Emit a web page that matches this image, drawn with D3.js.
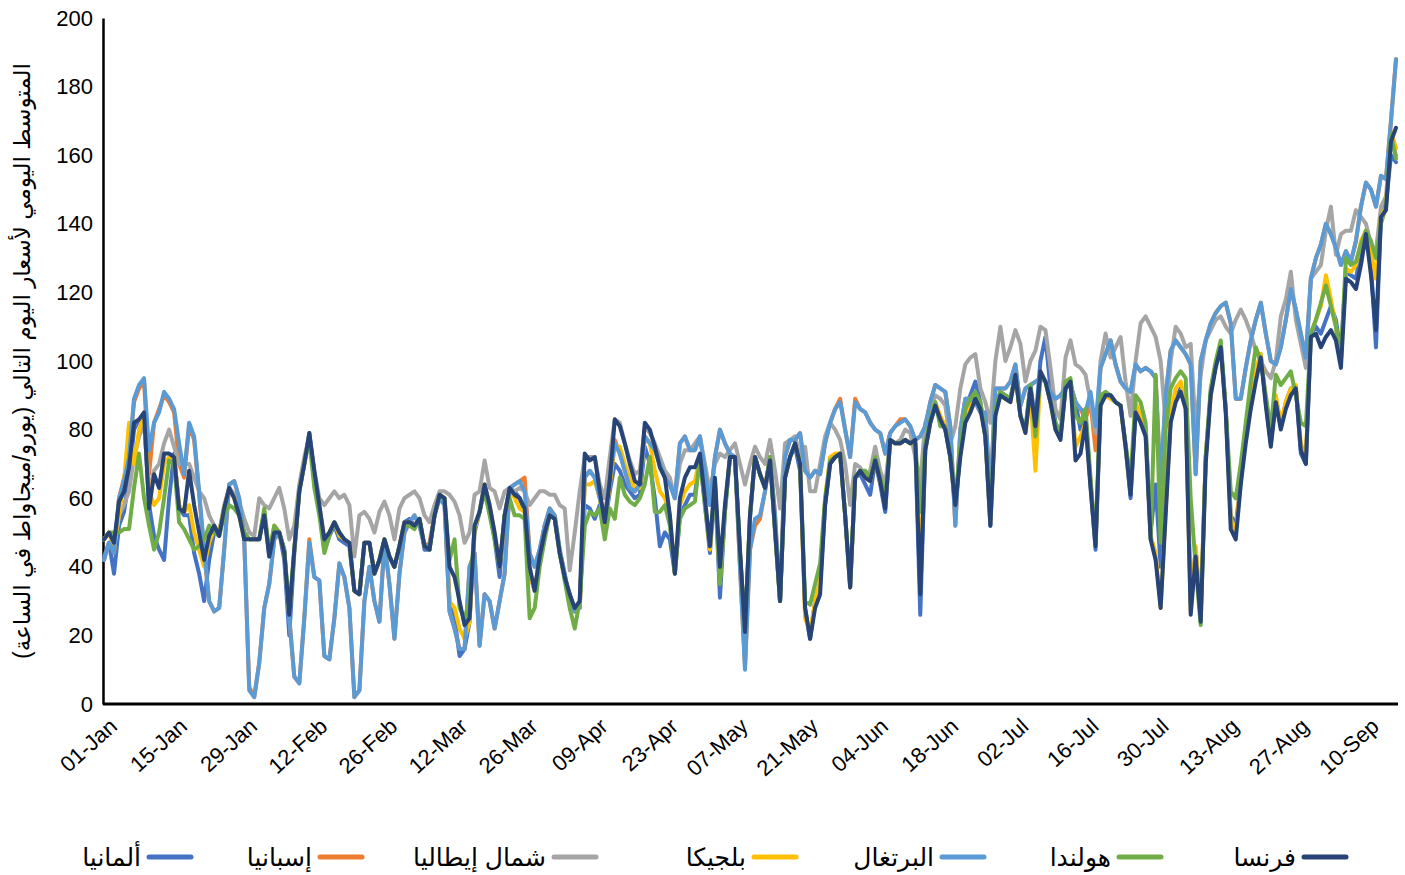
<!DOCTYPE html>
<html>
<head>
<meta charset="utf-8">
<script src="https://cdn.jsdelivr.net/npm/d3@7"></script>
<style>
  body { margin: 0; background: #fff; }
  text { font-family: "Liberation Sans", Arial, "DejaVu Sans", sans-serif; fill: #000; }
</style>
</head>
<body>
<div class="chart"></div>
<script>
// first day of the series, one value per day after it
var startDate = "2021-01-01";
var yTicks = [0, 20, 40, 60, 80, 100, 120, 140, 160, 180, 200];
var yTitle = "المتوسط اليومي لأسعار اليوم التالي (يورو/ميجاواط في الساعة)";

// daily averages, EUR/MWh
var germany = [43,47,38,52,56,66,80,83,84,58,49,45,42,60,73,57,55,55,44,38,30,42,50,50,57,63,61,56,50,48,
  48,48,56,43,51,50,42,20,44,62,70,79,67,57,45,49,52,48,47,46,33,32,47,47,38,42,48,43,40,46,
  53,54,52,54,45,45,55,61,59,30,25,14,16,24,50,56,64,57,48,37,55,63,62,60,56,38,33,43,52,56,
  54,44,37,32,27,30,58,57,54,58,52,62,70,68,64,62,60,61,75,70,60,46,50,48,38,55,58,61,61,72,
  58,44,64,31,56,72,72,44,21,54,72,67,63,72,50,30,66,72,75,68,28,19,30,35,58,70,72,73,55,34,
  66,67,64,61,71,64,56,77,76,76,77,76,76,26,74,82,87,83,80,72,57,74,86,90,94,88,78,52,86,91,
  90,89,96,84,80,93,82,100,107,92,82,78,92,93,88,80,84,64,45,88,90,90,88,87,75,60,86,83,80,50,
  64,40,58,83,89,92,87,30,45,26,72,91,99,105,86,55,52,65,80,88,95,102,88,76,89,81,88,92,92,73,
  70,108,110,108,112,116,112,102,126,125,124,132,138,128,104,142,146,160,158];

var spain = [42,47,44,60,66,72,88,92,94,67,82,86,90,88,85,70,66,81,77,61,44,30,27,28,45,64,65,60,48,5,
  2,12,28,35,48,50,45,25,8,6,25,48,37,36,14,13,25,41,37,28,2,4,30,40,30,24,47,35,19,38,
  50,53,55,52,46,47,55,60,58,27,22,16,16,40,44,17,32,30,22,30,38,63,64,65,66,44,40,45,52,57,
  55,45,38,30,27,28,66,68,66,60,54,66,77,73,68,63,62,64,78,76,74,70,66,64,60,76,78,74,74,78,
  68,58,72,80,76,73,72,40,11,45,52,54,62,72,55,30,72,77,77,79,68,66,68,67,76,82,86,89,80,72,
  89,86,85,82,80,79,73,79,81,83,83,81,77,78,81,88,93,92,91,81,52,80,89,89,88,85,85,60,92,92,
  92,94,99,87,92,93,94,95,94,91,89,90,92,93,88,86,83,88,74,98,102,106,99,94,92,91,99,97,98,97,
  95,64,90,103,106,104,102,99,67,100,106,111,114,116,117,111,89,89,98,106,112,117,108,100,99,104,112,121,115,108,
  101,124,130,134,140,137,133,128,132,129,135,145,152,150,145,154,153,170,188];

var northItaly = [48,50,47,55,58,62,72,78,82,62,68,70,76,80,75,70,70,70,66,62,60,55,52,50,58,63,61,59,54,50,
  49,60,58,57,60,63,57,48,52,64,72,78,68,60,58,60,62,60,61,58,43,55,56,54,50,56,59,55,48,57,
  60,61,62,60,55,53,58,62,62,61,59,55,47,50,61,62,71,63,62,57,62,63,62,63,62,58,60,62,62,61,
  61,58,57,39,50,62,72,72,72,64,60,72,83,82,76,71,67,68,81,79,76,72,68,66,60,70,74,74,76,78,
  70,62,70,73,72,74,76,70,64,70,75,72,70,77,68,57,76,77,78,72,75,62,62,70,78,82,80,77,70,58,
  70,69,66,68,75,68,64,77,76,77,80,79,72,65,82,86,90,89,87,76,81,92,99,101,102,92,88,82,100,110,
  100,104,109,105,94,100,103,110,109,98,86,83,101,106,99,98,96,88,79,100,108,101,104,107,94,84,100,111,113,110,
  107,100,82,100,110,108,104,105,80,96,106,109,112,113,110,108,112,115,112,108,103,100,97,95,100,113,118,126,112,105,
  98,124,126,128,138,145,131,137,138,138,144,142,140,134,132,145,148,165,160];

var belgium = [48,50,45,55,65,82,70,80,84,62,58,60,70,72,72,58,56,58,50,45,40,47,51,50,57,63,60,55,48,48,
  48,48,56,44,52,50,44,26,45,62,70,78,67,58,48,50,53,49,48,47,33,32,47,47,38,42,48,43,40,46,
  53,53,52,54,46,45,55,61,60,30,28,22,19,24,51,56,64,58,50,40,55,63,60,57,56,38,33,43,50,55,
  54,44,37,31,27,28,64,64,65,60,52,64,75,75,70,66,63,63,78,76,68,62,60,55,38,58,62,64,65,72,
  59,45,65,36,57,72,72,44,21,55,72,67,63,72,51,30,66,72,76,70,25,21,30,36,60,72,73,73,55,34,
  66,68,66,65,71,65,58,77,76,76,77,76,76,40,74,83,88,84,81,72,58,73,84,87,90,87,78,53,85,90,
  89,88,96,84,79,90,68,96,94,88,80,78,92,94,75,78,82,65,47,88,90,89,88,87,75,62,88,84,79,49,
  44,28,56,84,92,94,88,27,46,27,72,90,99,104,86,54,50,66,80,90,98,102,88,76,90,82,88,92,93,76,
  72,108,112,116,125,118,110,100,127,126,128,135,138,132,124,142,145,167,162];

var portugal = [42,47,44,60,65,72,89,93,95,74,82,85,91,89,86,76,67,82,78,62,45,30,27,28,45,64,65,60,48,4,
  2,12,28,35,48,50,45,25,8,6,25,47,37,36,14,13,25,41,37,28,2,4,30,40,30,24,47,35,19,38,
  50,53,55,52,46,46,55,60,58,27,22,16,16,40,44,17,32,30,22,30,38,63,64,65,62,44,40,45,52,57,
  55,45,38,30,27,28,66,68,66,60,54,66,76,73,68,63,62,64,78,76,74,70,66,64,60,76,78,74,74,78,
  68,58,72,80,76,73,72,40,10,45,54,55,62,72,55,30,72,77,77,79,68,66,68,67,76,82,86,88,80,72,
  88,86,85,82,80,79,73,79,81,82,83,81,77,78,81,88,93,92,91,81,52,80,89,89,88,85,85,60,92,92,
  92,94,99,87,92,93,94,95,94,91,89,90,92,93,88,86,85,91,81,98,102,106,99,94,92,91,99,97,98,97,
  95,64,90,103,106,104,102,99,67,100,106,111,114,116,117,111,89,89,98,106,112,117,108,100,99,104,112,121,115,108,
  101,124,130,134,140,137,133,128,132,129,135,145,152,150,145,154,153,170,188];

var netherlands = [48,50,50,50,51,51,63,73,60,52,45,50,60,71,70,53,51,48,45,46,48,52,50,49,55,58,57,55,50,48,
  48,48,57,44,52,50,45,27,45,62,70,77,63,55,44,49,53,50,48,47,33,32,47,47,38,42,48,43,40,46,
  52,52,51,54,46,45,55,61,60,42,48,28,25,30,52,56,62,55,48,40,55,60,55,55,54,25,28,40,48,55,
  54,44,36,28,22,30,52,56,55,57,48,57,54,66,61,59,58,60,64,72,56,56,58,52,38,54,57,58,59,72,
  58,46,64,35,56,72,72,44,22,55,72,67,63,72,51,30,66,72,76,70,30,29,35,41,60,71,72,73,55,35,
  66,68,68,66,72,66,60,77,76,76,77,76,76,56,76,83,88,81,81,72,60,75,86,89,91,88,78,55,86,91,
  90,89,96,84,80,93,78,96,94,88,82,79,94,95,84,82,86,66,47,90,91,90,88,87,76,65,90,88,82,48,
  96,47,80,92,95,97,95,60,40,23,72,92,100,106,86,62,60,70,82,94,104,100,90,80,96,93,95,97,90,82,
  81,108,112,117,122,116,110,101,130,128,129,134,138,135,130,140,145,166,159];

var france = [48,50,47,59,62,69,82,83,85,57,67,63,73,73,72,57,56,68,58,50,42,49,52,49,57,63,60,55,48,48,
  48,48,55,43,50,50,44,26,45,62,70,79,68,58,48,50,53,50,48,47,33,32,47,47,38,42,48,43,40,46,
  53,53,52,54,46,45,55,61,60,40,37,30,23,25,52,56,64,58,50,40,55,63,61,60,57,40,33,43,50,55,
  54,44,37,32,28,30,73,71,72,62,53,65,83,81,76,70,65,64,82,80,75,69,66,55,38,60,66,69,69,73,
  60,46,66,40,58,72,72,45,21,55,72,67,63,71,51,30,66,72,76,70,28,19,28,32,58,70,72,73,55,34,
  66,68,66,65,71,65,57,77,76,76,77,76,77,32,74,82,87,83,80,72,58,72,82,85,89,86,78,52,84,90,
  89,88,96,84,79,92,81,97,94,88,80,77,92,94,71,73,82,63,46,87,90,90,88,87,75,61,85,82,78,48,
  42,28,55,82,88,91,86,26,43,24,70,90,98,104,85,51,48,64,76,86,94,101,87,75,88,80,86,90,92,74,
  70,107,108,104,107,109,106,98,124,123,121,128,137,125,109,142,144,164,168];

// drawing order follows the workbook: the last series ends up on top
var seriesNames = ["ألمانيا", "إسبانيا", "شمال إيطاليا", "بلجيكا", "البرتغال", "هولندا", "فرنسا"];
var seriesValues = [germany, spain, northItaly, belgium, portugal, netherlands, france];
var seriesColors = ["#4472C4", "#ED7D31", "#A5A5A5", "#FFC000", "#5B9BD5", "#70AD47", "#264478"];

var svgWidth = 1405;
var svgHeight = 875;

var margin = { top: 18, right: 7, bottom: 171, left: 103 };
var width = svgWidth - margin.left - margin.right;
var height = svgHeight - margin.top - margin.bottom;

var svg = d3.select(".chart")
  .append("svg")
  .attr("width", svgWidth)
  .attr("height", svgHeight);

var chartGroup = svg.append("g")
  .attr("transform", `translate(${margin.left}, ${margin.top})`);

// dates for each daily value
var start = d3.timeParse("%Y-%m-%d")(startDate);
var dates = d3.timeDay.range(start, d3.timeDay.offset(start, france.length));

var xScale = d3.scaleTime()
  .domain([dates[0], dates[dates.length - 1]])
  .range([1, width - 2]);

var yScale = d3.scaleLinear()
  .domain([0, 200])
  .range([height, 0]);

// x axis: a label every two weeks, tilted
var xTickDates = dates.filter((d, i) => i % 14 === 0);
var xAxis = d3.axisBottom(xScale)
  .tickValues(xTickDates)
  .tickFormat(d3.timeFormat("%d-%b"))
  .tickSize(0);

var xAxisGroup = chartGroup.append("g")
  .attr("transform", `translate(0, ${height})`)
  .call(xAxis);

xAxisGroup.select(".domain")
  .attr("stroke", "#000")
  .attr("stroke-width", 3)
  .attr("d", `M0,0H${width}`);

xAxisGroup.selectAll("text")
  .attr("font-size", 22)
  .attr("text-anchor", "end")
  .attr("dy", 0)
  .attr("transform", "translate(12, 22) rotate(-42)");

// y axis without tick marks
var yAxis = d3.axisLeft(yScale)
  .tickValues(yTicks)
  .tickSize(0)
  .tickPadding(10);

var yAxisGroup = chartGroup.append("g")
  .call(yAxis);

yAxisGroup.select(".domain")
  .attr("stroke", "#000")
  .attr("stroke-width", 2.5);

yAxisGroup.selectAll("text")
  .attr("font-size", 22);

// one line per country
var line = d3.line()
  .x((d, i) => xScale(dates[i]))
  .y(d => yScale(d));

chartGroup.selectAll(".series")
  .data(seriesValues)
  .enter()
  .append("path")
  .attr("class", "series")
  .attr("d", d => line(d))
  .attr("fill", "none")
  .attr("stroke", (d, i) => seriesColors[i])
  .attr("stroke-width", 4)
  .attr("stroke-linejoin", "round")
  .attr("stroke-linecap", "round");

// y axis title
svg.append("text")
  .attr("transform", `translate(30, ${margin.top + height / 2}) rotate(-90)`)
  .attr("text-anchor", "middle")
  .attr("font-size", 23)
  .attr("direction", "rtl")
  .text(yTitle);

// legend: swatch on the right of each name
var legendLineX = [147, 318, 552, 752, 940, 1117, 1302];
var legendY = 857;

var legend = svg.append("g").selectAll("g")
  .data(seriesNames)
  .enter()
  .append("g")
  .attr("transform", (d, i) => `translate(${legendLineX[i]}, ${legendY})`);

legend.append("line")
  .attr("x1", 2)
  .attr("x2", 44)
  .attr("stroke", (d, i) => seriesColors[i])
  .attr("stroke-width", 5)
  .attr("stroke-linecap", "round");

legend.append("text")
  .attr("x", -6)
  .attr("dy", "0.35em")
  .attr("text-anchor", "end")
  .attr("font-size", 25)
  .text(d => d);
</script>
</body>
</html>
